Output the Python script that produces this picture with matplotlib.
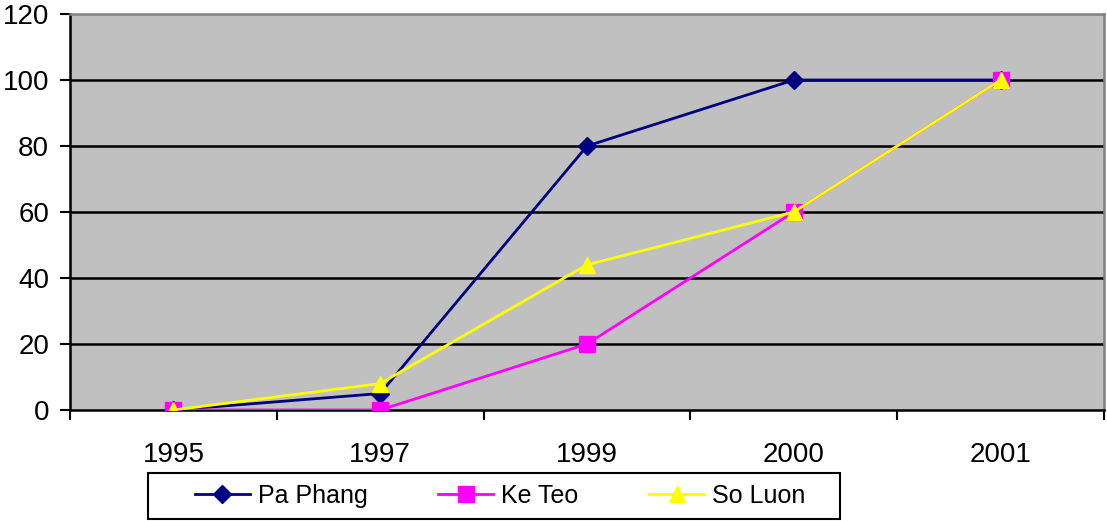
import numpy as np
import matplotlib.pyplot as plt
from matplotlib.patches import Rectangle

plt.rcParams['font.family'] = ['Liberation Sans', 'DejaVu Sans']

years = ['1995', '1997', '1999', '2000', '2001']
pa_phang = [0, 5, 80, 100, 100]
ke_teo = [0, 0, 20, 60, 100]
so_luon = [0, 8, 44, 60, 100]

W, H = 1107, 521
fig = plt.figure(figsize=(W / 100, H / 100), dpi=100)
ax = fig.add_axes([70 / W, 111 / H, 1034 / W, 396 / H])
ax.set_facecolor('#C0C0C0')

x = np.arange(len(years))
ax.plot(x, pa_phang, color='#000080', lw=2.0, marker='D', ms=9,
        mfc='#000080', mec='#000080', label='Pa Phang', zorder=3)
ax.plot(x, ke_teo, color='#FF00FF', lw=2.0, marker='s', ms=11,
        mfc='#FF00FF', mec='#FF00FF', label='Ke Teo', zorder=4)
ax.plot(x, so_luon, color='#FFFF00', lw=2.0, marker='^', ms=12,
        mfc='#FFFF00', mec='#FFFF00', label='So Luon', zorder=5)

ax.set_xlim(-0.5, len(years) - 0.5)
ax.set_ylim(0, 120)
ax.set_yticks(range(0, 121, 20))
ax.set_xticks(x)
ax.set_xticklabels(years)
ax.set_xticks(np.arange(-0.5, len(years)), minor=True)
ax.tick_params(axis='x', which='major', length=0, pad=23, labelsize=20)
ax.tick_params(axis='x', which='minor', length=7, width=1.5, direction='out')
ax.tick_params(axis='y', length=7, width=1.5, direction='out', pad=8, labelsize=20)

# gridlines drawn as plain black lines under the series
for v in range(20, 101, 20):
    ax.axhline(v, color='black', lw=1.8, zorder=1)

for side in ['left', 'bottom']:
    ax.spines[side].set_color('black')
    ax.spines[side].set_linewidth(1.8)
for side in ['top', 'right']:
    ax.spines[side].set_color('#808080')
    ax.spines[side].set_linewidth(1.8)

# legend box along the bottom
fig.patches.append(Rectangle((148 / W, 2 / H), 692 / W, 46 / H,
                             transform=fig.transFigure, fill=False,
                             edgecolor='black', lw=1.5))
leg = fig.legend(loc='center', ncol=3, mode='expand',
                 bbox_to_anchor=(195 / W, 2 / H, 610 / W, 46 / H),
                 fontsize=18, frameon=False,
                 handlelength=2.2, handletextpad=0.3,
                 borderaxespad=0, borderpad=0)

fig.savefig('out.png', dpi=100)
